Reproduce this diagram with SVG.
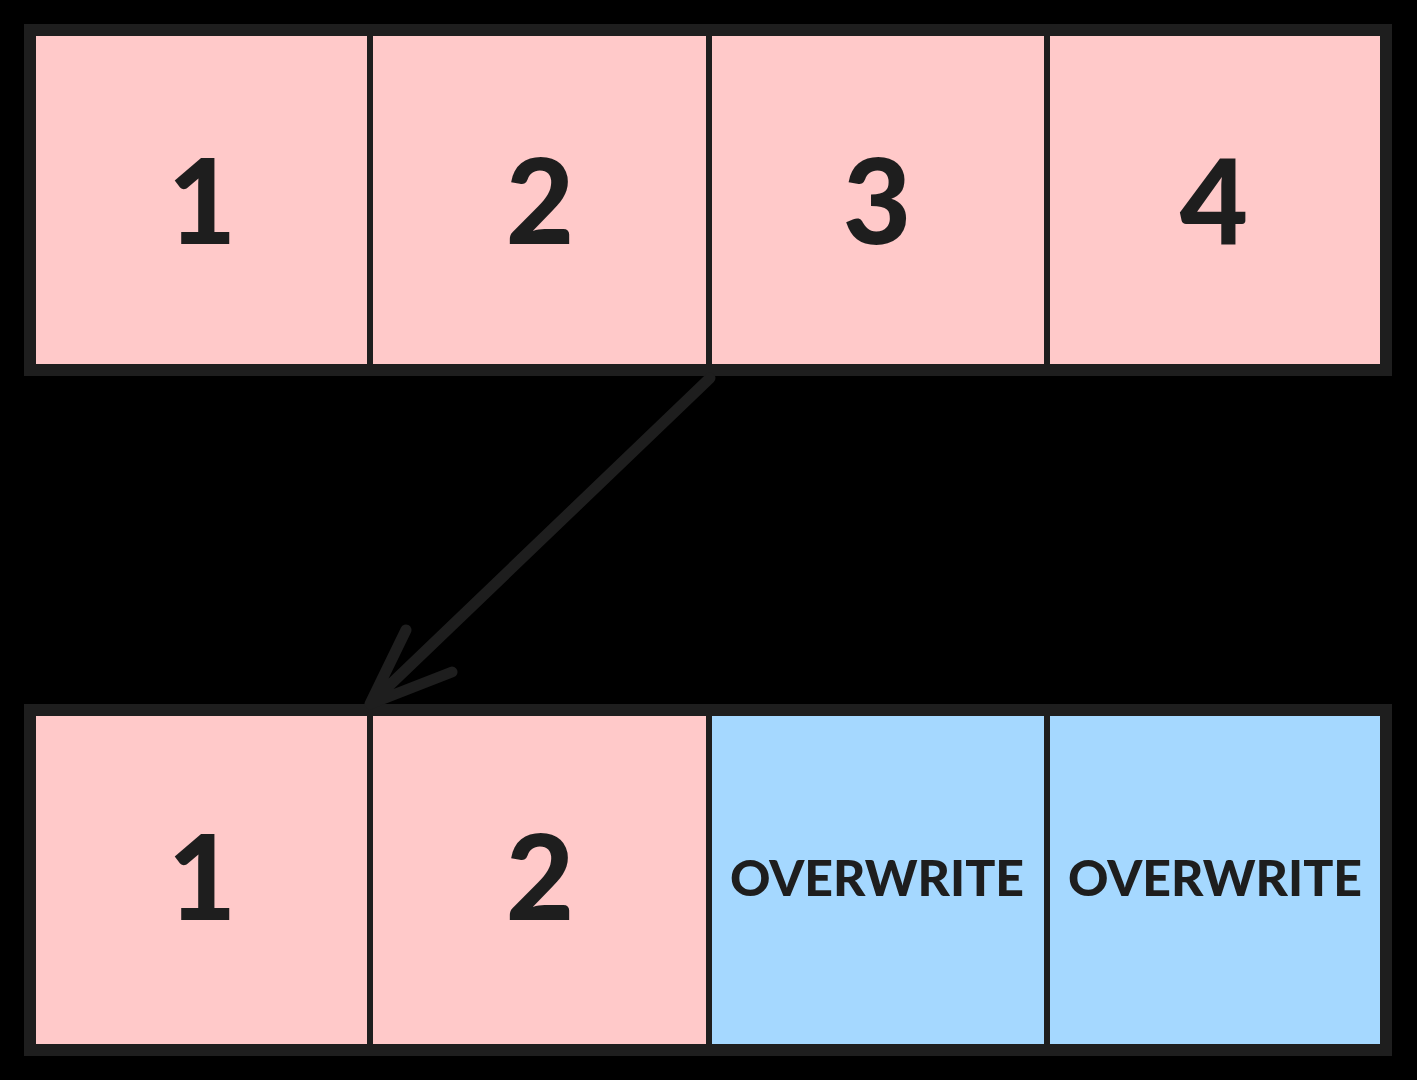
<svg xmlns="http://www.w3.org/2000/svg" width="1417" height="1080" viewBox="0 0 1417 1080">
<style>
.cell{stroke:#1e1e1e;stroke-width:6}
.pink{fill:#ffc9c9}
.blue{fill:#a5d8ff}
.frame{fill:none;stroke:#1e1e1e;stroke-width:12}
.num{font-family:Lato,"DejaVu Sans",sans-serif;font-weight:900;font-size:118px;fill:#1e1e1e;text-anchor:middle}
.ow{font-family:Lato,"DejaVu Sans",sans-serif;font-weight:900;font-size:50px;fill:#1e1e1e;text-anchor:middle}
.arrow{fill:none;stroke:#1e1e1e;stroke-width:11;stroke-linecap:round;stroke-linejoin:round}
</style>
<rect x="0" y="0" width="1417" height="1080" fill="#000"/>
<g id="top-1"><rect class="cell pink" x="30" y="30" width="340" height="340"/><text class="num" x="202" y="244">1</text></g>
<g id="top-2"><rect class="cell pink" x="370" y="30" width="339" height="340"/><text class="num" x="540" y="244">2</text></g>
<g id="top-3"><rect class="cell pink" x="709" y="30" width="338" height="340"/><text class="num" x="877" y="244">3</text></g>
<g id="top-4"><rect class="cell pink" x="1047" y="30" width="339" height="340"/><text class="num" x="1214" y="244">4</text></g>
<rect id="top-frame" class="frame" x="30" y="30" width="1356" height="340"/>
<g id="bot-1"><rect class="cell pink" x="30" y="710" width="340" height="340"/><text class="num" x="202" y="920">1</text></g>
<g id="bot-2"><rect class="cell pink" x="370" y="710" width="339" height="340"/><text class="num" x="540" y="920">2</text></g>
<g id="bot-3"><rect class="cell blue" x="709" y="710" width="338" height="340"/><text class="ow" x="877" y="896">OVERWRITE</text></g>
<g id="bot-4"><rect class="cell blue" x="1047" y="710" width="339" height="340"/><text class="ow" x="1215" y="896">OVERWRITE</text></g>
<rect id="bot-frame" class="frame" x="30" y="710" width="1356" height="340"/>
<g id="connectors">
<path class="arrow" d="M710 378 L370 704 M406 630 L370 704 L452 672"/>
</g>
</svg>
